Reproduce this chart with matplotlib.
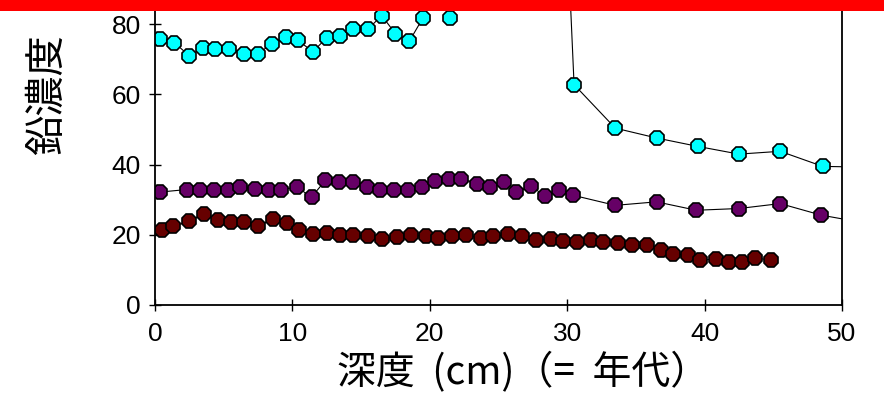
import matplotlib
matplotlib.use("Agg")
import matplotlib.pyplot as plt
from matplotlib.patches import Rectangle

# cyan series (values above the top of the chart are cut off, as in the original)
cyan_x = [0.4, 1.4, 2.5, 3.5, 4.4, 5.4, 6.5, 7.5, 8.5, 9.5, 10.4, 11.5, 12.5, 13.5,
          14.4, 15.5, 16.5, 17.5, 18.5, 19.5, 20.5, 21.5, 25.5, 29.4,
          30.5, 33.5, 36.5, 39.5, 42.5, 45.5, 48.6, 51.5]
cyan_y = [75.7, 74.8, 71.0, 73.3, 73.0, 73.0, 71.6, 71.6, 74.5, 76.4, 75.4, 72.2, 76.2, 76.7,
          78.6, 78.6, 82.5, 77.3, 75.1, 81.8, 90.0, 81.8, 120.0, 160.0,
          62.8, 50.4, 47.6, 45.2, 43.0, 43.8, 39.5, 39.3]

# purple series
purple_x = [0.4, 2.3, 3.3, 4.3, 5.3, 6.2, 7.3, 8.3, 9.2, 10.3, 11.4, 12.4, 13.4, 14.4,
            15.4, 16.4, 17.4, 18.4, 19.4, 20.4, 21.4, 22.3, 23.4, 24.4, 25.4, 26.3,
            27.4, 28.4, 29.4, 30.4, 33.5, 36.5, 39.4, 42.5, 45.5, 48.5, 51.5]
purple_y = [32.2, 32.9, 32.7, 32.9, 32.7, 33.5, 33.2, 32.9, 32.9, 33.6, 30.8, 35.5,
            35.1, 35.1, 33.5, 32.7, 32.9, 32.9, 33.6, 35.3, 36.0, 36.0, 34.6, 33.5,
            35.1, 32.2, 33.8, 31.0, 32.7, 31.3, 28.4, 29.4, 27.0, 27.5, 28.9, 25.6, 23.5]

# dark red series
maroon_x = [0.5, 1.3, 2.5, 3.6, 4.6, 5.5, 6.5, 7.5, 8.6, 9.6, 10.5, 11.5, 12.5, 13.5,
            14.4, 15.5, 16.5, 17.6, 18.6, 19.7, 20.6, 21.6, 22.6, 23.7, 24.6, 25.7,
            26.7, 27.7, 28.8, 29.7, 30.7, 31.7, 32.6, 33.7, 34.7, 35.8, 36.8, 37.7,
            38.8, 39.7, 40.8, 41.8, 42.7, 43.7, 44.8]
maroon_y = [21.5, 22.4, 23.9, 26.0, 24.1, 23.7, 23.7, 22.4, 24.6, 23.4, 21.5, 20.3,
            20.5, 19.9, 19.9, 19.6, 18.9, 19.4, 19.9, 19.6, 19.2, 19.6, 19.9, 19.2,
            19.6, 20.1, 19.6, 18.4, 18.9, 18.2, 18.0, 18.6, 18.0, 17.6, 17.0, 17.0,
            15.6, 14.6, 14.2, 12.7, 13.2, 12.3, 12.3, 13.5, 12.7]

x_ticks = [0, 10, 20, 30, 40, 50]
y_ticks = [0, 20, 40, 60, 80]

plt.rcParams['font.family'] = ['Liberation Sans', 'Noto Sans CJK JP', 'DejaVu Sans']
cjk = ['Noto Sans CJK JP', 'DejaVu Sans']

fig = plt.figure(figsize=(8.84, 4.05), dpi=100)
ax = fig.add_axes([155 / 884, 1 - 305 / 405, 687 / 884, 305 / 405])

series = [(cyan_x, cyan_y, '#00FFFF'),
          (purple_x, purple_y, '#660066'),
          (maroon_x, maroon_y, '#660000')]
for xs, ys, col in series:
    ax.plot(xs, ys, color='black', linewidth=0.8, marker='8', markersize=10.5,
            markerfacecolor=col, markeredgecolor='black', markeredgewidth=1.2)

ax.set_xlim(0, 50)
ax.set_ylim(0, 305 / 3.509)
ax.set_xticks(x_ticks)
ax.set_yticks(y_ticks)
ax.tick_params(direction='inout', length=8, width=1, labelsize=19)
ax.tick_params(axis='y', pad=6)
ax.tick_params(axis='x', pad=8)
for s in ['left', 'bottom', 'right']:
    ax.spines[s].set_linewidth(1.3)
ax.spines['top'].set_visible(False)

fig.text(337 / 884, 1 - 373 / 405, '深度  (cm)（=  年代）', family=cjk,
         fontsize=28, ha='left', va='center')
fig.text(47 / 884, 1 - 95 / 405, '鉛濃度', family=cjk, fontsize=29,
         rotation=90, ha='center', va='center')

# red bar along the top edge
fig.add_artist(Rectangle((0, 1 - 11 / 405), 1, 11 / 405, transform=fig.transFigure,
                         facecolor='#FF0000', edgecolor='none', zorder=10))

fig.savefig('out.png', dpi=100)
